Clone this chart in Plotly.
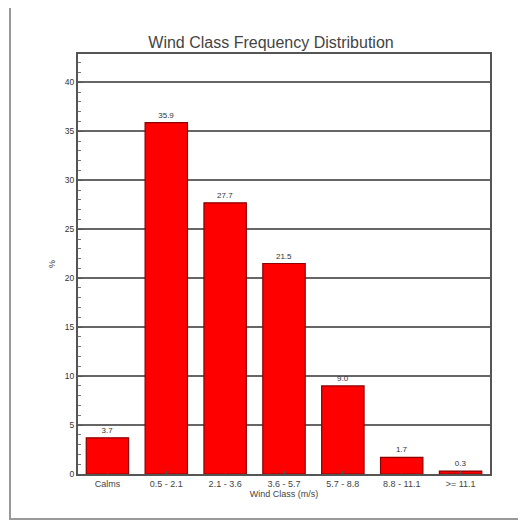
import plotly.graph_objects as go

categories = ["Calms", "0.5 - 2.1", "2.1 - 3.6", "3.6 - 5.7", "5.7 - 8.8", "8.8 - 11.1", ">= 11.1"]
values = [3.7, 35.9, 27.7, 21.5, 9.0, 1.7, 0.3]
value_labels = ["3.7", "35.9", "27.7", "21.5", "9.0", "1.7", "0.3"]
y_ticks = [0, 5, 10, 15, 20, 25, 30, 35, 40]

OFF = 8  # page body margin
W, H = 526 - OFF, 522 - OFF
L, T = 78 - OFF, 54 - OFF
R = W - (490 - OFF)
B = H - (474 - OFF)
pw, ph = W - L - R, H - T - B

def px(x):
    return (x - OFF - L) / pw

def py(y):
    return (H - B - (y - OFF)) / ph

fig = go.Figure()
fig.add_trace(go.Bar(
    x=categories, y=values, text=value_labels, textposition="outside",
    textfont=dict(size=8, color="#333"), cliponaxis=False,
    marker=dict(color="#ff0000", line=dict(color="#8b0000", width=1.2)),
    width=0.72,
))

fig.update_layout(
    width=W, height=H, margin=dict(l=L, r=R, t=T, b=B),
    paper_bgcolor="white", plot_bgcolor="white", showlegend=False,
    font=dict(family="Liberation Sans, Arial, sans-serif", color="#333"),
    title=dict(text="Wind Class Frequency Distribution", x=px(271), xanchor="center",
               xref="paper", y=1 - (42 - OFF) / H, yanchor="middle",
               font=dict(size=16, color="#444")),
    xaxis=dict(showline=True, linecolor="#555", linewidth=2, mirror=True,
               ticks="inside", ticklen=3, tickcolor="#555",
               tickfont=dict(size=9, color="#444"),
               title=dict(text="Wind Class (m/s)", font=dict(size=9, color="#444"), standoff=2)),
    yaxis=dict(range=[0, 42.9], tickvals=y_ticks, showline=True, linecolor="#555", linewidth=2,
               mirror=True, ticks="inside", ticklen=5, tickcolor="#555",
               tickfont=dict(size=8.5, color="#333"),
               showgrid=True, gridcolor="#666", gridwidth=2,
               minor=dict(dtick=1, ticks="inside", ticklen=3, tickcolor="#777", showgrid=False),
               zeroline=False,
               title=dict(text="%", font=dict(size=9, color="#333"), standoff=8)),
    bargap=0.28,
)

fig.add_shape(type="rect", xref="paper", yref="paper",
              x0=px(10), x1=px(522), y0=py(519), y1=py(4),
              line=dict(color="#999", width=2), layer="below")

fig.write_html("out.html")
